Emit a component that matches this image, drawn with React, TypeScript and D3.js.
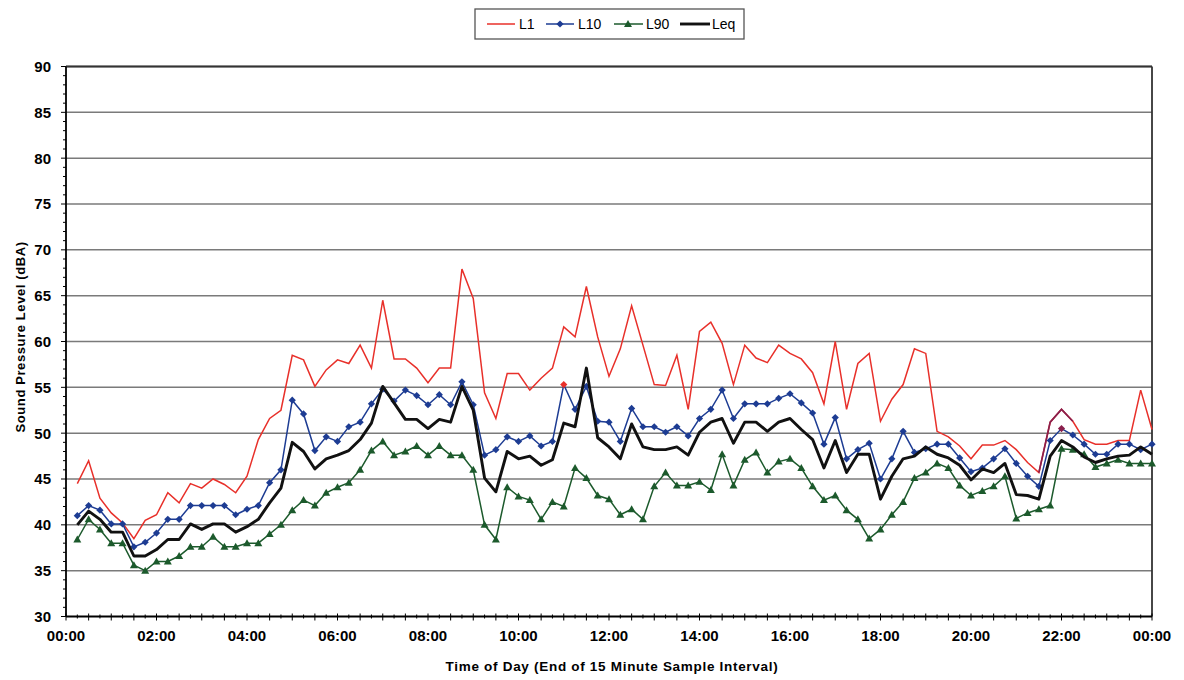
import React from "react";
import * as d3 from "d3";

// 15-minute sample intervals, end-of-interval times 00:15 ... 24:00 (index 1..96)
const intervalIndex: number[] = d3.range(1, 97);

const l1: number[] = [
  44.5, 47.0, 42.9, 41.3, 40.2, 38.5, 40.5, 41.1, 43.5, 42.4, 44.5, 44.0,
  45.0, 44.4, 43.5, 45.3, 49.3, 51.6, 52.5, 58.5, 58.0, 55.1, 56.9, 58.0,
  57.6, 59.6, 57.1, 64.5, 58.1, 58.1, 57.1, 55.5, 57.1, 57.1, 67.9, 64.7,
  54.4, 51.6, 56.5, 56.5, 54.7, 56.0, 57.1, 61.6, 60.5, 66.0, 60.5, 56.2,
  59.2, 63.9, 59.6, 55.3, 55.2, 58.5, 52.6, 61.1, 62.1, 59.8, 55.3, 59.6,
  58.2, 57.7, 59.6, 58.7, 58.1, 56.6, 53.2, 60.0, 52.6, 57.6, 58.7, 51.3,
  53.7, 55.3, 59.2, 58.7, 50.2, 49.6, 48.6, 47.2, 48.7, 48.7, 49.2, 48.2,
  46.8, 45.7, 51.2, 52.6, 51.3, 49.3, 48.8, 48.8, 49.2, 49.2, 54.7, 50.4,
];

const l10: number[] = [
  41.0, 42.1, 41.6, 40.1, 40.1, 37.6, 38.1, 39.1, 40.6, 40.6, 42.1, 42.1,
  42.1, 42.1, 41.1, 41.7, 42.1, 44.6, 46.0, 53.6, 52.1, 48.1, 49.6, 49.1,
  50.7, 51.2, 53.2, 54.8, 53.5, 54.7, 54.1, 53.1, 54.2, 53.1, 55.6, 53.1,
  47.6, 48.2, 49.6, 49.1, 49.7, 48.6, 49.1, 55.3, 52.6, 55.1, 51.3, 51.2,
  49.1, 52.7, 50.7, 50.7, 50.1, 50.7, 49.7, 51.6, 52.6, 54.7, 51.6, 53.2,
  53.2, 53.2, 53.8, 54.3, 53.3, 52.2, 48.8, 51.7, 47.2, 48.2, 48.9, 45.0,
  47.2, 50.2, 47.9, 48.3, 48.8, 48.8, 47.3, 45.8, 46.2, 47.2, 48.3, 46.7,
  45.3, 44.2, 49.2, 50.5, 49.8, 48.8, 47.7, 47.7, 48.8, 48.8, 48.2, 48.8,
];

const l90: number[] = [
  38.4, 40.6, 39.5, 38.0, 38.0, 35.6, 35.0, 36.0, 36.0, 36.6, 37.6, 37.6,
  38.7, 37.6, 37.6, 38.0, 38.0, 39.0, 40.0, 41.6, 42.7, 42.1, 43.5, 44.1,
  44.6, 46.0, 48.1, 49.1, 47.6, 48.0, 48.6, 47.6, 48.6, 47.6, 47.6, 46.0,
  40.0, 38.4, 44.1, 43.1, 42.7, 40.6, 42.5, 42.0, 46.2, 45.1, 43.2, 42.8,
  41.1, 41.7, 40.6, 44.2, 45.7, 44.3, 44.3, 44.7, 43.8, 47.7, 44.3, 47.1,
  47.9, 45.7, 46.9, 47.2, 46.2, 44.2, 42.7, 43.2, 41.6, 40.6, 38.5, 39.5,
  41.1, 42.5, 45.1, 45.7, 46.7, 46.2, 44.3, 43.2, 43.7, 44.2, 45.3, 40.7,
  41.3, 41.7, 42.1, 48.3, 48.2, 47.7, 46.3, 46.7, 47.1, 46.7, 46.7, 46.7,
];

const leq: number[] = [
  40.0, 41.5, 40.6, 39.2, 39.2, 36.6, 36.6, 37.3, 38.4, 38.4, 40.1, 39.5,
  40.1, 40.1, 39.2, 39.8, 40.6, 42.4, 44.0, 49.0, 48.0, 46.1, 47.2, 47.6,
  48.1, 49.3, 51.1, 55.1, 53.3, 51.5, 51.5, 50.5, 51.5, 51.2, 55.1, 52.5,
  45.1, 43.6, 48.0, 47.2, 47.5, 46.5, 47.1, 51.1, 50.7, 57.1, 49.5, 48.5,
  47.2, 51.0, 48.5, 48.2, 48.2, 48.5, 47.6, 50.1, 51.2, 51.6, 48.9, 51.2,
  51.2, 50.2, 51.2, 51.6, 50.4, 49.3, 46.2, 49.2, 45.7, 47.7, 47.7, 42.8,
  45.3, 47.2, 47.5, 48.5, 47.7, 47.3, 46.5, 44.9, 46.1, 45.7, 46.7, 43.3,
  43.2, 42.8, 47.5, 49.2, 48.5, 47.4, 46.8, 47.2, 47.5, 47.6, 48.5, 47.7,
];

const yTicks: number[] = [30, 35, 40, 45, 50, 55, 60, 65, 70, 75, 80, 85, 90];
const xTickLabels: string[] = [
  "00:00", "02:00", "04:00", "06:00", "08:00", "10:00", "12:00",
  "14:00", "16:00", "18:00", "20:00", "22:00", "00:00",
];

const RED = "#e8302a";
const BLUE = "#1d3c93";
const GREEN = "#1c5a2c";
const BLACK = "#111111";
const MAROON = "#8a1f4c";
const FONT = "'Liberation Sans', Arial, Helvetica, sans-serif";

const x = d3.scaleLinear().domain([0, 96]).range([66, 1152]);
const y = d3.scaleLinear().domain([30, 90]).range([616.5, 66.5]);

type Pt = [number, number];
const pts = (vals: number[]): Pt[] => vals.map((v, k) => [intervalIndex[k], v]);
const line = d3
  .line<Pt>()
  .x((d) => x(d[0]))
  .y((d) => y(d[1]));

const diamond = (cx: number, cy: number, r = 3.6) =>
  `M${cx},${cy - r}L${cx + r},${cy}L${cx},${cy + r}L${cx - r},${cy}Z`;
const triangle = (cx: number, cy: number, r = 4) =>
  `M${cx},${cy - r}L${cx + r},${cy + r * 0.75}L${cx - r},${cy + r * 0.75}Z`;

export default function App() {
  const l1Pts = pts(l1);
  const l10Pts = pts(l10);
  const l90Pts = pts(l90);
  const leqPts = pts(leq);
  const minorY = d3.range(30, 91, 1);
  const xTicks = d3.range(0, 97, 1);

  return (
    <svg
      width={1184}
      height={680}
      style={{ position: "absolute", left: 0, top: 0, background: "#fff" }}
      fontFamily={FONT}
    >
      {/* horizontal grid */}
      {yTicks.slice(1).map((t) => (
        <line
          key={"g" + t}
          x1={x(0)}
          x2={x(96)}
          y1={y(t)}
          y2={y(t)}
          stroke="#7a7a7a"
          strokeWidth={1.5}
        />
      ))}
      {/* plot frame */}
      <line x1={x(0)} x2={x(96)} y1={y(90)} y2={y(90)} stroke="#333" strokeWidth={1.8} />
      <line x1={x(96)} x2={x(96)} y1={y(90)} y2={y(30)} stroke="#333" strokeWidth={1.8} />

      {/* y axis */}
      <line x1={x(0)} x2={x(0)} y1={y(90)} y2={y(30)} stroke="#000" strokeWidth={1.8} />
      {minorY.map((t) => (
        <line
          key={"my" + t}
          x1={x(0) - (t % 5 === 0 ? 5 : 3)}
          x2={x(0)}
          y1={y(t)}
          y2={y(t)}
          stroke="#000"
          strokeWidth={1}
        />
      ))}
      {yTicks.map((t) => (
        <text
          key={"yl" + t}
          x={51}
          y={y(t)}
          dy="0.36em"
          textAnchor="end"
          fontSize={15}
          fontWeight="bold"
        >
          {t}
        </text>
      ))}

      {/* x axis */}
      <line x1={x(0)} x2={x(96)} y1={y(30)} y2={y(30)} stroke="#000" strokeWidth={1.8} />
      {xTicks.map((t) => (
        <line
          key={"xt" + t}
          x1={x(t)}
          x2={x(t)}
          y1={y(30) - (t % 2 === 0 ? 3 : 2)}
          y2={y(30) + (t % 2 === 0 ? 4 : 2)}
          stroke="#000"
          strokeWidth={1}
        />
      ))}
      {xTickLabels.map((lab, k) => (
        <text
          key={"xl" + k}
          x={x(k * 8)}
          y={641}
          textAnchor="middle"
          fontSize={15}
          fontWeight="bold"
        >
          {lab}
        </text>
      ))}

      {/* axis titles */}
      <text
        transform={`translate(20,${y(60.5)}) rotate(-90)`}
        textAnchor="middle"
        fontSize={13}
        fontWeight="bold"
        letterSpacing={0.6}
        dy="0.35em"
      >
        Sound Pressure Level (dBA)
      </text>
      <text
        x={612}
        y={671}
        textAnchor="middle"
        fontSize={13.5}
        fontWeight="bold"
        letterSpacing={0.7}
      >
        Time of Day (End of 15 Minute Sample Interval)
      </text>

      {/* L1 */}
      <path d={line(l1Pts) ?? ""} fill="none" stroke={RED} strokeWidth={1.5} />
      <path d={line(l1Pts.slice(85, 89)) ?? ""} fill="none" stroke={MAROON} strokeWidth={1.7} />

      {/* L10 */}
      <path d={line(l10Pts) ?? ""} fill="none" stroke={BLUE} strokeWidth={1.5} />
      {l10Pts.map((d, k) => (
        <path
          key={"d" + k}
          d={diamond(x(d[0]), y(d[1]))}
          fill={k === 43 ? RED : k === 87 ? MAROON : BLUE}
        />
      ))}

      {/* L90 */}
      <path d={line(l90Pts) ?? ""} fill="none" stroke={GREEN} strokeWidth={1.5} />
      {l90Pts.map((d, k) => (
        <path key={"t" + k} d={triangle(x(d[0]), y(d[1]))} fill={GREEN} />
      ))}

      {/* Leq */}
      <path
        d={line(leqPts) ?? ""}
        fill="none"
        stroke={BLACK}
        strokeWidth={2.9}
        strokeLinejoin="round"
      />

      {/* legend */}
      <g>
        <rect x={475} y={9} width={269} height={30} fill="#fff" stroke="#555" strokeWidth={1.3} />
        <line x1={487} x2={515} y1={24} y2={24} stroke={RED} strokeWidth={1.5} />
        <text x={519} y={24} dy="0.36em" fontSize={14}>L1</text>
        <line x1={546} x2={574} y1={24} y2={24} stroke={BLUE} strokeWidth={1.5} />
        <path d={diamond(560, 24)} fill={BLUE} />
        <text x={578} y={24} dy="0.36em" fontSize={14}>L10</text>
        <line x1={614} x2={643} y1={24} y2={24} stroke={GREEN} strokeWidth={1.5} />
        <path d={triangle(628, 24)} fill={GREEN} />
        <text x={646} y={24} dy="0.36em" fontSize={14}>L90</text>
        <line x1={680} x2={710} y1={24} y2={24} stroke={BLACK} strokeWidth={2.9} />
        <text x={712} y={24} dy="0.36em" fontSize={14}>Leq</text>
      </g>
    </svg>
  );
}
